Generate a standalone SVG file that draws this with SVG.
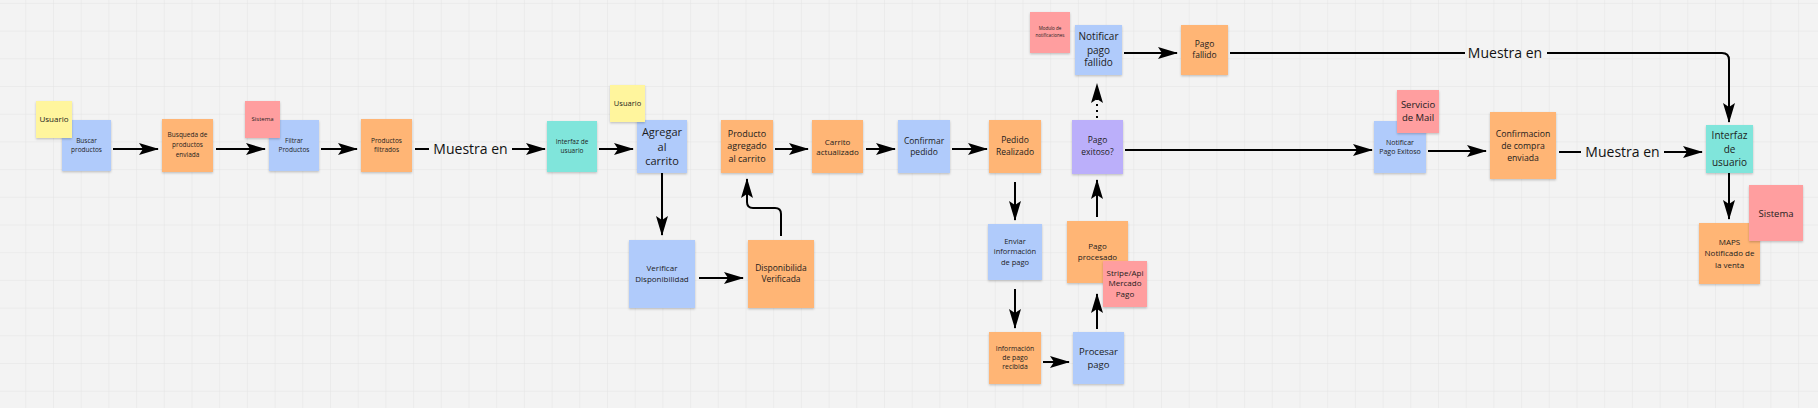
<svg xmlns="http://www.w3.org/2000/svg" width="1818" height="408" viewBox="0 0 1818 408">
<defs>
<pattern id="grid" width="27.7" height="27.7" patternUnits="userSpaceOnUse" x="25.3" y="2.9">
<path d="M0,0 H27.7 M0,0 V27.7" fill="none" stroke="#e4e4e4" stroke-width="1"/>
</pattern>
<filter id="sh" x="-10%" y="-10%" width="120%" height="125%">
<feDropShadow dx="0" dy="1.2" stdDeviation="0.9" flood-color="#000" flood-opacity="0.22"/>
</filter>
<marker id="ah" markerUnits="userSpaceOnUse" markerWidth="20" markerHeight="12" refX="19" refY="6" orient="auto" overflow="visible">
<path d="M0,0 L20,6 L0,12 L4,6 Z" fill="#000"/>
</marker>
</defs>
<style>
.n{filter:url(#sh)}
.blue{fill:#b0cbfb}
.orange{fill:#ffb574}
.teal{fill:#80e5db}
.yellow{fill:#fff59d}
.red{fill:#ff9e9f}
.purple{fill:#bbaffa}
text{font-family:"Open Sans","Noto Sans",sans-serif;fill:#1c1c1c;text-anchor:middle}
.c path{fill:none;stroke:#000;stroke-width:2}
.c path.a{marker-end:url(#ah)}
.c path.d{stroke-dasharray:2 4}
.lbl{font-size:14px;fill:#111}
</style>
<rect width="1818" height="408" fill="#f3f3f3"/>
<rect width="1818" height="408" fill="url(#grid)"/>

<g id="connectors" class="c">
<path class="a" d="M113,149 H158"/>
<path class="a" d="M216,149 H265"/>
<path class="a" d="M321,149 H357"/>
<path d="M415,149 H429"/>
<path class="a" d="M512,149 H545"/>
<path class="a" d="M599,149 H633"/>
<path class="a" d="M662,173 V235"/>
<path class="a" d="M699,278 H743"/>
<path class="a" d="M781,236 V214 Q781,208 775,208 H753 Q747,208 747,202 V179"/>
<path class="a" d="M775,149 H808"/>
<path class="a" d="M866,149 H895"/>
<path class="a" d="M952,149 H987"/>
<path class="a" d="M1015,182 V220"/>
<path class="a" d="M1015,289 V328"/>
<path class="a" d="M1043,362 H1069"/>
<path class="a" d="M1097,329 V294"/>
<path class="a" d="M1097,217 V180"/>
<path class="a d" d="M1097,118 V84"/>
<path class="a" d="M1124,53 H1177"/>
<path d="M1230,53 H1465"/>
<path class="a" d="M1547,53 H1722 Q1729,53 1729,60 V122"/>
<path class="a" d="M1125,150 H1372"/>
<path class="a" d="M1428,151 H1486"/>
<path d="M1559,152 H1581"/>
<path class="a" d="M1664,152 H1702"/>
<path class="a" d="M1729,173 V219"/>
<text class="lbl" x="470.5" y="154">Muestra en</text>
<text class="lbl" x="1505" y="58">Muestra en</text>
<text class="lbl" x="1622.5" y="157">Muestra en</text>
</g>

<g id="buscar-productos"><rect class="n blue" x="62" y="120" width="49" height="51"/>
<text font-size="6.5"><tspan x="86.5" y="143.3">Buscar</tspan><tspan x="86.5" y="152.3">productos</tspan></text></g>
<g id="usuario-1"><rect class="n yellow" x="36" y="101" width="36" height="37"/>
<text font-size="8" x="54" y="122">Usuario</text></g>

<g id="busqueda-enviada"><rect class="n orange" x="162" y="119" width="51" height="53"/>
<text font-size="6.5"><tspan x="187.5" y="137.3">Busqueda de</tspan><tspan x="187.5" y="147">productos</tspan><tspan x="187.5" y="156.6">enviada</tspan></text></g>

<g id="filtrar-productos"><rect class="n blue" x="269" y="120" width="50" height="51"/>
<text font-size="6.5"><tspan x="294" y="143">Filtrar</tspan><tspan x="294" y="152.3">Productos</tspan></text></g>
<g id="sistema-1"><rect class="n red" x="245" y="101" width="35" height="37"/>
<text font-size="6" x="262.5" y="121">Sistema</text></g>

<g id="productos-filtrados"><rect class="n orange" x="361" y="119" width="51" height="53"/>
<text font-size="6.5"><tspan x="386.5" y="143">Productos</tspan><tspan x="386.5" y="152.3">filtrados</tspan></text></g>

<g id="interfaz-usuario-1"><rect class="n teal" x="547" y="121" width="50" height="51"/>
<text font-size="6.5"><tspan x="572" y="144">Interfaz de</tspan><tspan x="572" y="153.3">usuario</tspan></text></g>

<g id="agregar-carrito"><rect class="n blue" x="637" y="120" width="50" height="53"/>
<text font-size="11"><tspan x="662" y="136.2">Agregar</tspan><tspan x="662" y="150.6">al</tspan><tspan x="662" y="164.9">carrito</tspan></text></g>
<g id="usuario-2"><rect class="n yellow" x="610" y="85" width="35" height="37"/>
<text font-size="7.5" x="627.5" y="106">Usuario</text></g>

<g id="producto-agregado"><rect class="n orange" x="721" y="120" width="52" height="53"/>
<text font-size="9"><tspan x="747" y="136.5">Producto</tspan><tspan x="747" y="149.2">agregado</tspan><tspan x="747" y="161.9">al carrito</tspan></text></g>

<g id="carrito-actualizado"><rect class="n orange" x="812" y="120" width="51" height="53"/>
<text font-size="8"><tspan x="837.5" y="144.5">Carrito</tspan><tspan x="837.5" y="155.1">actualizado</tspan></text></g>

<g id="confirmar-pedido"><rect class="n blue" x="898" y="120" width="52" height="53"/>
<text font-size="8.5"><tspan x="924" y="143.7">Confirmar</tspan><tspan x="924" y="155.3">pedido</tspan></text></g>

<g id="pedido-realizado"><rect class="n orange" x="989" y="120" width="52" height="53"/>
<text font-size="8.5"><tspan x="1015" y="143">Pedido</tspan><tspan x="1015" y="155.3">Realizado</tspan></text></g>

<g id="pago-exitoso"><rect class="n purple" x="1072" y="120" width="51" height="54"/>
<text font-size="8.5"><tspan x="1097.5" y="143">Pago</tspan><tspan x="1097.5" y="155.3">exitoso?</tspan></text></g>

<g id="modulo-notificaciones"><rect class="n red" x="1030" y="12" width="40" height="41"/>
<text font-size="4.5"><tspan x="1050" y="30.3">Modulo de</tspan><tspan x="1050" y="36.6">notificaciones</tspan></text></g>

<g id="notificar-pago-fallido"><rect class="n blue" x="1075" y="25" width="47" height="50"/>
<text font-size="10"><tspan x="1098.5" y="39.5">Notificar</tspan><tspan x="1098.5" y="53.5">pago</tspan><tspan x="1098.5" y="66.2">fallido</tspan></text></g>

<g id="pago-fallido"><rect class="n orange" x="1181" y="25" width="47" height="50"/>
<text font-size="8.5"><tspan x="1204.5" y="46.7">Pago</tspan><tspan x="1204.5" y="58">fallido</tspan></text></g>

<g id="notificar-pago-exitoso"><rect class="n blue" x="1374" y="121" width="52" height="52"/>
<text font-size="7"><tspan x="1400" y="144.8">Notificar</tspan><tspan x="1400" y="154.2">Pago Exitoso</tspan></text></g>
<g id="servicio-mail"><rect class="n red" x="1397" y="90" width="42" height="43"/>
<text font-size="9.5"><tspan x="1418" y="108.3">Servicio</tspan><tspan x="1418" y="120.6">de Mail</tspan></text></g>

<g id="confirmacion-compra"><rect class="n orange" x="1490" y="112" width="66" height="67"/>
<text font-size="8.7"><tspan x="1523" y="137">Confirmacion</tspan><tspan x="1523" y="148.7">de compra</tspan><tspan x="1523" y="161.3">enviada</tspan></text></g>

<g id="interfaz-usuario-2"><rect class="n teal" x="1706" y="125" width="47" height="48"/>
<text font-size="10"><tspan x="1729.5" y="139.2">Interfaz</tspan><tspan x="1729.5" y="152.8">de</tspan><tspan x="1729.5" y="165.8">usuario</tspan></text></g>

<g id="maps-notificado"><rect class="n orange" x="1699" y="223" width="61" height="61"/>
<text font-size="8"><tspan x="1729.5" y="245.1">MAPS</tspan><tspan x="1729.5" y="256.1">Notificado de</tspan><tspan x="1729.5" y="267.8">la venta</tspan></text></g>
<g id="sistema-2"><rect class="n red" x="1749" y="185" width="54" height="56"/>
<text font-size="9.5" x="1776" y="216.6">Sistema</text></g>

<g id="verificar-disponibilidad"><rect class="n blue" x="629" y="240" width="66" height="68"/>
<text font-size="8"><tspan x="662" y="271.1">Verificar</tspan><tspan x="662" y="281.8">Disponibilidad</tspan></text></g>

<g id="disponibilidad-verificada"><rect class="n orange" x="748" y="240" width="66" height="68"/>
<text font-size="8.5"><tspan x="781" y="270.7">Disponibilida</tspan><tspan x="781" y="282">Verificada</tspan></text></g>

<g id="enviar-informacion"><rect class="n blue" x="988" y="224" width="54" height="56"/>
<text font-size="7.5"><tspan x="1015" y="243.6">Enviar</tspan><tspan x="1015" y="254.3">información</tspan><tspan x="1015" y="264.9">de pago</tspan></text></g>

<g id="informacion-recibida"><rect class="n orange" x="989" y="332" width="52" height="52"/>
<text font-size="6.8"><tspan x="1015" y="350.7">Información</tspan><tspan x="1015" y="359.7">de pago</tspan><tspan x="1015" y="369.1">recibida</tspan></text></g>

<g id="procesar-pago"><rect class="n blue" x="1073" y="332" width="51" height="52"/>
<text font-size="9.5"><tspan x="1098.5" y="355">Procesar</tspan><tspan x="1098.5" y="367.6">pago</tspan></text></g>

<g id="pago-procesado"><rect class="n orange" x="1067" y="221" width="61" height="62"/>
<text font-size="8"><tspan x="1097.5" y="248.8">Pago</tspan><tspan x="1097.5" y="259.5">procesado</tspan></text></g>
<g id="stripe-mercado-pago"><rect class="n red" x="1103" y="261" width="44" height="46"/>
<text font-size="8"><tspan x="1125" y="275.5">Stripe/Api</tspan><tspan x="1125" y="286.1">Mercado</tspan><tspan x="1125" y="297.1">Pago</tspan></text></g>
</svg>
